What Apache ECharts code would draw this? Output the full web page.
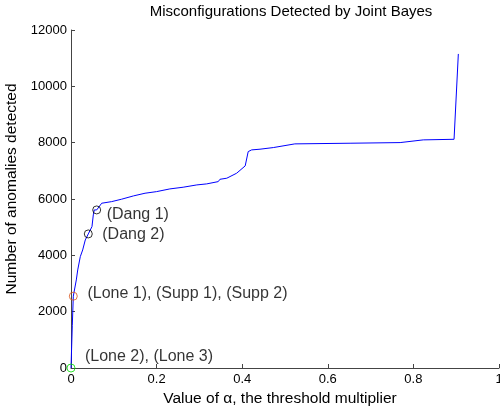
<!DOCTYPE html>
<html>
<head>
<meta charset="utf-8">
<script src="https://cdn.jsdelivr.net/npm/echarts@6/dist/echarts.min.js"></script>
<style>html,body{margin:0;padding:0;background:#fff}#c{width:500px;height:406px}</style>
</head>
<body>
<div id="c"></div>
<script>
// Curve: alpha (threshold multiplier) vs anomalies detected
const alphaValues = [0, 0.003, 0.0054, 0.0124, 0.0157, 0.0217, 0.0273, 0.0334, 0.0404, 0.049, 0.0521, 0.0544, 0.060, 0.0717, 0.095, 0.118, 0.146, 0.173, 0.200, 0.231, 0.262, 0.294, 0.317, 0.344, 0.348, 0.364, 0.387, 0.407, 0.414, 0.422, 0.4416, 0.4727, 0.523, 0.652, 0.769, 0.823, 0.895, 0.905];
const anomalyCounts = [0, 1500, 2550, 3126, 3481, 3953, 4191, 4547, 4760, 5019, 5435, 5612, 5612, 5850, 5907, 5992, 6110, 6205, 6262, 6358, 6418, 6500, 6536, 6617, 6700, 6738, 6915, 7175, 7683, 7743, 7768, 7826, 7957, 7980, 8003, 8099, 8120, 11150];

// Marked misconfigurations (circles)
const markerX = [0, 0.0054, 0.0404, 0.060];
const markerY = [0, 2550, 4760, 5612];
const markerColors = ['#00e000', '#d95319', '#000000', '#000000'];

// Annotation text anchors
const annoText = ['(Dang 1)', '(Dang 2)', '(Lone 1), (Supp 1), (Supp 2)', '(Lone 2), (Lone 3)'];
const annoX = [0.0834, 0.073, 0.0385, 0.0327];
const annoY = [5460, 4720, 2645, 400];

const titleText = 'Misconfigurations Detected by Joint Bayes';
const xName = 'Value of \u03b1, the threshold multiplier';
const yName = 'Number of anomalies detected';

const FONT = '"Liberation Sans", Arial, Helvetica, sans-serif';
const chart = echarts.init(document.getElementById('c'), null, {renderer: 'canvas'});

const lineData = alphaValues.map((x, i) => [x, anomalyCounts[i]]);
const markerData = markerX.map((x, i) => ({value: [x, markerY[i]], itemStyle: {borderColor: markerColors[i]}}));
const annoData = annoX.map((x, i) => ({value: [x, annoY[i]], name: annoText[i]}));

chart.setOption({
  animation: false,
  title: {
    text: titleText, left: 286, top: -1, textAlign: 'center',
    textStyle: {fontFamily: FONT, fontSize: 15, fontWeight: 'normal', color: '#000'}
  },
  grid: {left: 71, right: 1, top: 30, bottom: 38, containLabel: false, outerBoundsMode: 'none'},
  xAxis: {
    type: 'value', min: 0, max: 1, interval: 0.2,
    name: xName, nameLocation: 'middle', nameGap: 15,
    nameTextStyle: {fontFamily: FONT, fontSize: 15.5, color: '#000', padding: [0, 10, 0, 0]},
    axisLine: {show: true, onZero: false, lineStyle: {color: '#444', width: 1}},
    axisTick: {show: true, inside: true, length: 4, lineStyle: {color: '#444'}},
    axisLabel: {fontFamily: FONT, fontSize: 13, color: '#000', margin: 5, formatter: v => String(v)},
    splitLine: {show: false}
  },
  yAxis: {
    type: 'value', min: 0, max: 12000, interval: 2000,
    name: yName, nameLocation: 'middle', nameGap: 40, nameRotate: 90,
    nameTextStyle: {fontFamily: FONT, fontSize: 15.5, color: '#000', padding: [0, 0, 0, 20]},
    axisLine: {show: true, lineStyle: {color: '#444', width: 1}},
    axisTick: {show: true, inside: true, length: 4, lineStyle: {color: '#444'}},
    axisLabel: {fontFamily: FONT, fontSize: 13, color: '#000', margin: 4, formatter: v => String(v)},
    splitLine: {show: false}
  },
  series: [
    {
      type: 'line', data: lineData, showSymbol: false, symbol: 'none',
      lineStyle: {color: '#0000ff', width: 1}, z: 2
    },
    {
      type: 'scatter', data: markerData, symbol: 'circle', symbolSize: 8, clip: false,
      itemStyle: {color: 'rgba(0,0,0,0)', borderWidth: 1}, z: 3
    },
    {
      type: 'scatter', data: annoData, symbolSize: 0, clip: false,
      label: {
        show: true, position: 'right', distance: 0, formatter: p => p.name,
        fontFamily: FONT, fontSize: 16, color: '#000'
      }, z: 4
    }
  ]
});
</script>
</body>
</html>
